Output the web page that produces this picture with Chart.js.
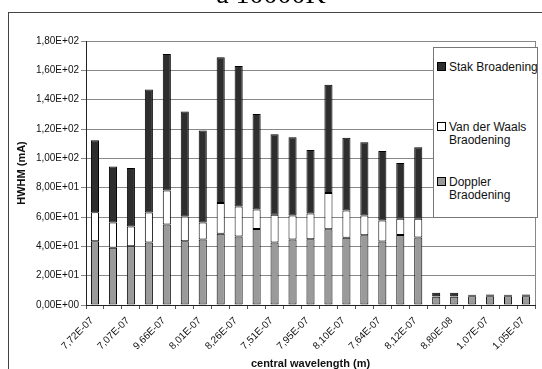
<!DOCTYPE html>
<html>
<head>
<meta charset="utf-8">
<script src="https://cdn.jsdelivr.net/npm/chart.js@4.4.1/dist/chart.umd.min.js"></script>
<style>
  html, body { margin: 0; padding: 0; background: #fff; }
  #wrap { position: relative; width: 542px; height: 369px; overflow: hidden; }
  #title { position: absolute; left: 0; width: 542px; top: -22px; text-align: center;
    font: 28px "Liberation Serif", "Times New Roman", serif; color: #000; }
  #legend { position: absolute; left: 433px; top: 47px; width: 105px; height: 171px;
    background: #fff; border: 1px solid #777; box-sizing: border-box;
    font: 12px "Liberation Sans", Arial, sans-serif; color: #111; overflow: hidden; }
  .item { position: absolute; left: 3px; white-space: nowrap; line-height: 13px; }
  .box { display: inline-block; width: 7px; height: 7px; border: 1px solid #000;
    margin-right: 3px; vertical-align: 0px; }
  .item span.t2 { display: block; padding-left: 12px; }
</style>
</head>
<body>
<div id="wrap">
  <canvas id="chart" width="542" height="369"></canvas>
  <div id="title">a 10000K</div>
  <div id="legend"></div>
</div>
<script>
// every other category label is hidden in the picture, so those stay empty
const categories = ["7,72E-07", "", "7,07E-07", "", "9,66E-07", "", "8,01E-07", "", "8,26E-07", "",
  "7,51E-07", "", "7,95E-07", "", "8,10E-07", "", "7,64E-07", "", "8,12E-07", "",
  "8,80E-08", "", "1,07E-07", "", "1,05E-07"];

const doppler = [43.5, 39.0, 40.1, 42.6, 54.9, 43.5, 44.6, 48.5, 46.7, 51.9, 42.6, 44.6, 44.9,
  51.7, 45.8, 47.6, 43.3, 47.8, 46.0, 5.6, 5.6, 6.0, 6.0, 6.0, 6.0];
const vanDerWaals = [19.8, 17.3, 13.4, 20.5, 23.2, 16.9, 11.7, 21.0, 20.5, 13.2, 18.9, 16.4, 17.5,
  24.6, 18.7, 13.4, 14.3, 11.0, 12.8, 0.3, 0.3, 0.3, 0.3, 0.3, 0.3];
const stark = [49.0, 38.2, 39.9, 83.8, 93.0, 71.5, 62.6, 99.5, 95.7, 65.2, 54.9, 53.4, 43.3,
  73.8, 49.6, 49.9, 47.4, 38.0, 48.7, 2.5, 2.5, 0.7, 0.9, 0.7, 0.9];

const legendItems = [
  { text: ["Stak Broadening"], color: "#2e2e2e", top: 13 },
  { text: ["Van der Waals", "Braodening"], color: "#ffffff", top: 73 },
  { text: ["Doppler", "Braodening"], color: "#9a9a9a", top: 128 }
];

// format like 1,80E+02
function sci(v) {
  const parts = Number(v).toExponential(2).split("e");
  let exp = parseInt(parts[1], 10);
  const sign = exp < 0 ? "-" : "+";
  exp = Math.abs(exp);
  return parts[0].replace(".", ",") + "E" + sign + (exp < 10 ? "0" + exp : exp);
}

const framePlugin = {
  id: "frame",
  beforeDraw(chart) {
    const ctx = chart.ctx;
    ctx.save();
    ctx.strokeStyle = "#444";
    ctx.lineWidth = 1;
    ctx.strokeRect(8.5, 12.5, 700, 500);
    ctx.restore();
  },
  beforeDatasetsDraw(chart) {
    const a = chart.chartArea;
    const ctx = chart.ctx;
    ctx.save();
    ctx.strokeStyle = "#888";
    ctx.lineWidth = 1;
    ctx.beginPath();
    ctx.moveTo(Math.round(a.right) + 0.5, a.top);
    ctx.lineTo(Math.round(a.right) + 0.5, a.bottom);
    ctx.stroke();
    ctx.restore();
  }
};

const axisFont = { family: "Liberation Sans", size: 10 };

new Chart(document.getElementById("chart"), {
  type: "bar",
  data: {
    labels: categories,
    datasets: [
      { label: "Doppler Braodening", data: doppler, backgroundColor: "#9a9a9a" },
      { label: "Van der Waals Braodening", data: vanDerWaals, backgroundColor: "#ffffff" },
      { label: "Stak Broadening", data: stark, backgroundColor: "#2e2e2e" }
    ].map(d => Object.assign(d, {
      borderColor: "#000", borderWidth: 1, borderSkipped: false,
      barPercentage: 0.5, categoryPercentage: 0.9
    }))
  },
  options: {
    responsive: false,
    animation: false,
    layout: { padding: { left: 0, right: 7, top: 41, bottom: 0 } },
    plugins: { legend: { display: false }, tooltip: { enabled: false } },
    scales: {
      x: {
        stacked: true,
        offset: true,
        grid: { display: true, drawOnChartArea: false, offset: true, color: "#555", tickLength: 4 },
        border: { color: "#222" },
        ticks: { color: "#111", font: axisFont, minRotation: 45, maxRotation: 45, autoSkip: false,
          padding: 6, labelOffset: -3 },
        title: { display: true, text: "central wavelength (m)", color: "#111",
          font: { family: "Liberation Sans", size: 11, weight: "bold" }, padding: { top: 0, bottom: -2 } },
        afterFit(s) { s.height = 64; }
      },
      y: {
        stacked: true,
        min: 0,
        max: 180,
        ticks: { stepSize: 20, color: "#111", font: axisFont, padding: 2, callback: v => sci(v) },
        grid: { color: "#888", tickLength: 5 },
        border: { color: "#222" },
        title: { display: true, text: "HWHM (mA)", color: "#111",
          font: { family: "Liberation Sans", size: 11, weight: "bold" }, padding: { top: 15, bottom: 0 } },
        afterFit(s) { s.width = 86; }
      }
    }
  },
  plugins: [framePlugin]
});

// legend drawn as a box over the plot, like the original
const legend = document.getElementById("legend");
legendItems.forEach(it => {
  const el = document.createElement("div");
  el.className = "item";
  el.style.top = it.top + "px";
  el.innerHTML = '<span class="box" style="background:' + it.color + '"></span>' + it.text[0] +
    (it.text[1] ? '<span class="t2">' + it.text[1] + "</span>" : "");
  legend.appendChild(el);
});
</script>
</body>
</html>
